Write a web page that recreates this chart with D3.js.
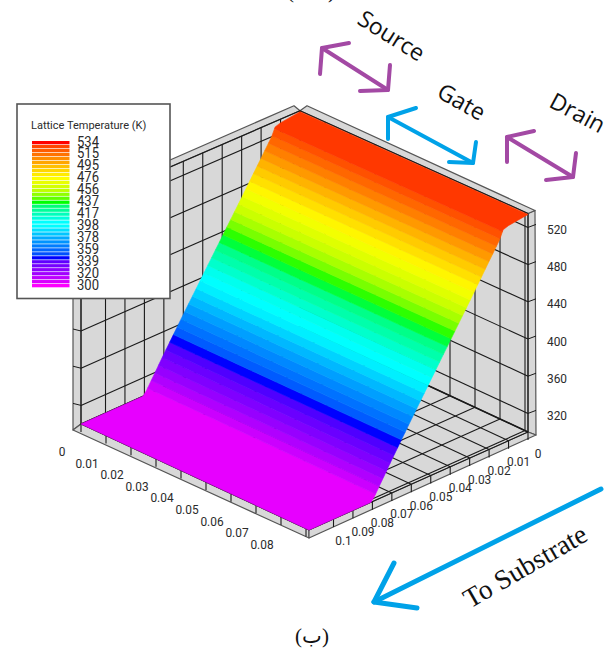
<!DOCTYPE html>
<html><head><meta charset="utf-8">
<style>html,body{margin:0;padding:0;background:#fff}svg{display:block}text{font-family:Roboto,"Liberation Sans",sans-serif}</style>
<script src="https://cdnjs.cloudflare.com/ajax/libs/d3/7.8.5/d3.min.js"></script>
</head><body><svg id="c" width="611" height="649"></svg>
<script>
// ---- data ----
const legendLabels = [534,515,495,476,456,437,417,398,378,359,339,320,300];
const profileDepth = [0,0.0101,0.0128,0.0146,0.03,0.04,0.05,0.06,0.07,0.0788,0.0807];
const profileTemp  = [534,531,529,520,468,435,402,369,335.5,305,300];
const uTicks = [0,0.01,0.02,0.03,0.04,0.05,0.06,0.07,0.08];
const dTicks = [0,0.01,0.02,0.03,0.04,0.05,0.06,0.07,0.08,0.09,0.1];
const zTicks = [320,360,400,440,480,520];
const uMax = 0.0912, dMax = 0.1126, zMin = 300, zWall = 535;
const colorTemps = [300,303,320,342,345.5,349,352,378,398,404,430,436.5,440,443,456,476,495,515,528,531,534];
const colorVals  = ["#ff00ff","#e800ff","#a000ff","#5500ff","#0000ff","#0000ff","#0050ff","#00aaff","#00ffff","#00ffff","#00ff78","#00ff00","#30ff00","#60ff00","#c0ff00","#ffff00","#ffc000","#ff7000","#ff4400","#ff3700","#ff0000"];
const levelCount = 37;

const svg = d3.select("#c");
const color = d3.scaleLinear().domain(colorTemps).range(colorVals);

// oblique projection built from scales
const ox = 300, oy = 326;
const uX = d3.scaleLinear().domain([0,uMax]).range([0,228]);
const uY = d3.scaleLinear().domain([0,uMax]).range([0,106]);
const dX = d3.scaleLinear().domain([0,dMax]).range([0,-219]);
const dY = d3.scaleLinear().domain([0,dMax]).range([0,98]);
const zH = d3.scaleLinear().domain([300,534]).range([0,217.6]);
const near = (u,d)=>0.985+0.015*(u/uMax+d/dMax);
const P = (u,d,z)=>[ox+uX(u)+dX(d), oy+uY(u)+dY(d)-zH(z)*near(u,d)];

const line = d3.line();
const poly = (pts,fill,stroke,sw)=>svg.append("path").attr("d",line(pts)+"Z").attr("fill",fill)
  .attr("stroke",stroke||"none").attr("stroke-width",sw||0).attr("stroke-linejoin","round");
const seg = (a,b,stroke,sw)=>svg.append("line").attr("x1",a[0]).attr("y1",a[1]).attr("x2",b[0]).attr("y2",b[1])
  .attr("stroke",stroke).attr("stroke-width",sw);

const GR="#d8d8d8", BK="#1a1a1a", EDGE="#555";
const off = {Al:[-8,6], At:[-8,-3], Fb:[8,3], Ft:[7,-3], Bb:[0,8]};
const add=(p,o)=>[p[0]+o[0],p[1]+o[1]];

const A=P(0,dMax,zMin), B=P(uMax,dMax,zMin), F=P(uMax,0,zMin), D=P(0,0,zMin);
const At=P(0,dMax,zWall), Dt=P(0,0,zWall), Ft=P(uMax,0,zWall);

// walls and floor
poly([A,At,Dt,D],GR); poly([D,Dt,Ft,F],GR); poly([A,B,F,D],GR);
// outer strips
poly([A,add(A,off.Al),add(At,off.At),At],GR,EDGE,1.2);
poly([F,add(F,off.Fb),add(Ft,off.Ft),Ft],GR,EDGE,1.2);
poly([At,add(At,off.At),add(Dt,[-6,-5]),Dt],GR,EDGE,1.2);
poly([Dt,add(Dt,[7,-5]),add(Ft,off.Ft),Ft],GR,EDGE,1.2);
poly([A,add(A,off.Al),add(B,off.Bb),B],GR,EDGE,1.2);
poly([F,add(F,off.Fb),add(B,off.Bb),B],GR,EDGE,1.2);

// grids
dTicks.forEach(d=>{
  seg(P(0,d,zMin),P(0,d,zWall),BK,1.1);
  seg(P(0,d,zMin),P(uMax,d,zMin),BK,1.1);
  const t=P(uMax,d,zMin); seg(t,add(t,[0,8]),BK,1.1);
});
uTicks.concat([0.09]).forEach(u=>{
  seg(P(u,0,zMin),P(u,0,zWall),BK,1.1);
  seg(P(u,0,zMin),P(u,dMax,zMin),BK,1.1);
  const t=P(u,dMax,zMin); seg(t,add(t,[0,8]),BK,1.1);
});
zTicks.forEach(z=>{
  const a=P(0,dMax,z), b=P(0,0,z), c=P(uMax,0,z);
  seg(a,b,BK,1.1); seg(b,c,BK,1.1);
  seg(a,add(a,[-8,-2]),BK,1); seg(c,add(c,[8,-3]),BK,1);
});
seg(A,D,BK,1.3); seg(D,F,BK,1.6); seg(At,Dt,BK,1.2); seg(Dt,Ft,BK,1.2);
seg(A,At,BK,1.2); seg(F,Ft,BK,1.2);
seg(A,B,BK,1); seg(B,F,BK,1);

// surface: one polygon per contour band of the profile
const tempToDepth = d3.scaleLinear().domain(profileTemp).range(profileDepth);
const depthToTemp = d3.scaleLinear().domain(profileDepth).range(profileTemp);
const step = (legendLabels[0]-legendLabels[legendLabels.length-1])/(levelCount-1);
const levels = d3.range(levelCount).map(i=>zMin+i*step);
d3.range(levelCount-1).forEach(i=>{
  const lo=levels[i], hi=levels[i+1];
  const d1 = i===0 ? dMax : tempToDepth(lo);
  const d0 = tempToDepth(hi);
  const ds = [d0].concat(profileDepth.filter(d=>d>d0&&d<d1)).concat(i===0?[tempToDepth(zMin)]:[]).concat([d1]);
  const T = d=> d>=tempToDepth(zMin)?zMin:depthToTemp(d);
  const pts = ds.map(d=>P(0,d,T(d))).concat(ds.slice().reverse().map(d=>P(uMax,d,T(d))));
  const c=color(lo+step/2);
  poly(pts,c,c,0.6);
});

// axis labels
const lab=(txt,x,y,size,anchor)=>svg.append("text").text(txt).attr("x",x).attr("y",y)
  .attr("font-size",size).attr("fill","#2b2b2b").attr("text-anchor",anchor||"middle").attr("dominant-baseline","central");
const squeeze=(sel,k)=>sel.attr("textLength",sel.node().getComputedTextLength()*k).attr("lengthAdjust","spacingAndGlyphs");
const fmt=v=>String(v);
uTicks.forEach(u=>{const p=P(u,dMax,zMin); squeeze(lab(fmt(u),p[0]-19,p[1]+27.5,13.2),0.9);});
dTicks.forEach(d=>{const p=P(uMax,d,zMin); squeeze(lab(fmt(d),p[0]+10,p[1]+21,13.2),0.9);});
zTicks.forEach(z=>{const p=P(uMax,0,z); squeeze(lab(fmt(z),557,p[1]+2,13.2),0.9);});

// legend
svg.append("rect").attr("x",17).attr("y",104).attr("width",153).attr("height",194.5)
  .attr("fill","#fff").attr("stroke","#555").attr("stroke-width",1.6);
lab("Lattice Temperature (K)",31,125,11,"start");
const legY=d3.scaleLinear().domain([534,300]).range([141,284]);
levels.forEach(t=>{
  svg.append("rect").attr("x",32).attr("width",37.5).attr("y",legY(t)).attr("height",3.3).attr("fill",color(t));
});
const labY=d3.scaleLinear().domain([0,legendLabels.length-1]).range([142,285.7]);
legendLabels.forEach((v,i)=>squeeze(lab(v,77,labY(i),14.5,"start"),0.9));

// annotations
const PURPLE="#a349a4", BLUE="#00a2e8";
const arrows=[
 {c:PURPLE,w:4,shaft:[[322,48],[388,90]],barbs:[[[320,74],[322,48],[349,43]],[[360,91],[388,90],[390,65]]]},
 {c:BLUE,w:4,shaft:[[388,117],[473,163]],barbs:[[[388,139],[388,117],[416,108]],[[449,162],[473,163],[476,142]]]},
 {c:PURPLE,w:4,shaft:[[507,137],[573,177]],barbs:[[[507,162],[507,137],[534,131]],[[546,180],[573,177],[576,153]]]},
 {c:BLUE,w:5,shaft:[[601,489],[374,602]],barbs:[[[394,563],[374,602],[417,608]]]}
];
arrows.forEach(a=>{
  [a.shaft].concat(a.barbs).forEach(p=>svg.append("path").attr("d",line(p)).attr("fill","none")
    .attr("stroke",a.c).attr("stroke-width",a.w).attr("stroke-linecap","round").attr("stroke-linejoin","round"));
});
const rot=(t,x,y,ang,size,fam)=>svg.append("text").text(t).attr("text-anchor","middle").attr("dominant-baseline","central")
  .attr("transform",`translate(${x},${y}) rotate(${ang})`).attr("font-size",size).attr("fill","#111").style("font-family",fam);
rot("Source",392,35,32,23,"'Open Sans'");
rot("Gate",462,101,29,23,"'Open Sans'");
rot("Drain",578,112,28,23,"'Open Sans'");
rot("To Substrate",525,566,-30,27.5,"'Liberation Serif'");
rot("(ب)",312,636,0,21,"'Liberation Serif','DejaVu Sans'");
rot("(الف)",311,-9,0,21,"'Liberation Serif','DejaVu Sans'");
</script></body></html>
